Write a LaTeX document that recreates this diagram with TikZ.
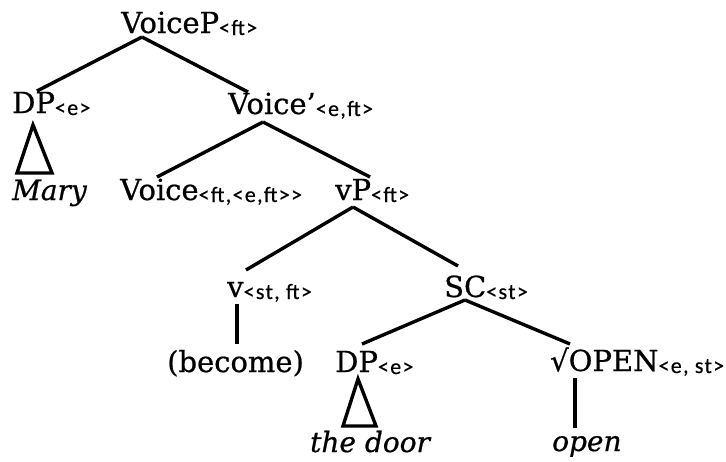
\documentclass[tikz,border=0pt]{standalone}
\usepackage{fontspec}
\setmainfont{DejaVu Serif}[FakeBold=0.7]
\newfontfamily\typefont[LetterSpace=6,FakeBold=0.5]{Carlito}
\newfontfamily\rootfont[FakeBold=0.7]{DejaVu Sans}
\usetikzlibrary{positioning}
\newcommand{\tsub}[1]{\raisebox{-2pt}{\typefont\fontsize{22}{22}\selectfont #1}}

\begin{document}
\begin{tikzpicture}[
  x=1pt, y=-1pt,
  cat/.style={anchor=base west, inner sep=0pt, font=\fontsize{29}{32}\selectfont},
  leaf/.style={cat, font=\fontsize{28}{31}\selectfont\itshape},
  branch/.style={line width=3.4pt}
]
  \useasboundingbox (0,0) rectangle (726,461);

  % labels
  \node[cat] (voicep) at (121,33) {VoiceP\tsub{<ft>}};
  \node[cat] (dpMary) at (12,113) {DP\tsub{<e>}};
  \node[cat] (voicebar) at (228,114) {Voice’\tsub{<e,ft>}};
  \node[leaf] (mary) at (12,200) {Mary};
  \node[cat] (voicehead) at (120,200) {Voice\tsub{<ft,<e,ft>>}};
  \node[cat] (vp) at (335,200) {vP\tsub{<ft>}};
  \node[cat] (vhead) at (227,297) {v\tsub{<st, ft>}};
  \node[cat] (sc) at (444,297) {SC\tsub{<st>}};
  \node[cat] (become) at (167,372) {(become)};
  \node[cat] (dpDoor) at (335,372) {DP\tsub{<e>}};
  \node[cat] (rootOpen) at (550,371) {{\rootfont √}OPEN\tsub{<e, st>}};
  \node[leaf] (door) at (310,452) {the door};
  \node[leaf] (open) at (552,451) {open};

  % branch ends
  \coordinate (voicep-b) at (142,37);
  \coordinate (dpMary-t) at (37,91);
  \coordinate (voicebar-t) at (248,92);
  \coordinate (voicebar-b) at (263,122);
  \coordinate (voicehead-t) at (157,177);
  \coordinate (vp-t) at (370,177);
  \coordinate (vp-b) at (353,207);
  \coordinate (vhead-t) at (246,270);
  \coordinate (sc-t) at (458,266);
  \coordinate (vhead-b) at (237,304);
  \coordinate (become-t) at (237,344);
  \coordinate (sc-b) at (465,300);
  \coordinate (dpDoor-t) at (362,344);
  \coordinate (rootOpen-t) at (570,344);
  \coordinate (rootOpen-b) at (575,378);
  \coordinate (open-t) at (575,428);

  % triangles
  \coordinate (dpMary-b) at (33,125);
  \coordinate (mary-l) at (17,173);
  \coordinate (mary-r) at (52,173);
  \coordinate (dpDoor-b) at (358,379);
  \coordinate (door-l) at (343,426);
  \coordinate (door-r) at (376,426);

  \draw[branch] (voicep-b) -- (dpMary-t);
  \draw[branch] (voicep-b) -- (voicebar-t);
  \draw[branch] (voicebar-b) -- (voicehead-t);
  \draw[branch] (voicebar-b) -- (vp-t);
  \draw[branch] (vp-b) -- (vhead-t);
  \draw[branch] (vp-b) -- (sc-t);
  \draw[branch] (vhead-b) -- (become-t);
  \draw[branch] (sc-b) -- (dpDoor-t);
  \draw[branch] (sc-b) -- (rootOpen-t);
  \draw[branch] (rootOpen-b) -- (open-t);

  \draw[branch] (dpMary-b) -- (mary-l) -- (mary-r) -- cycle;
  \draw[branch] (dpDoor-b) -- (door-l) -- (door-r) -- cycle;
\end{tikzpicture}
\end{document}
